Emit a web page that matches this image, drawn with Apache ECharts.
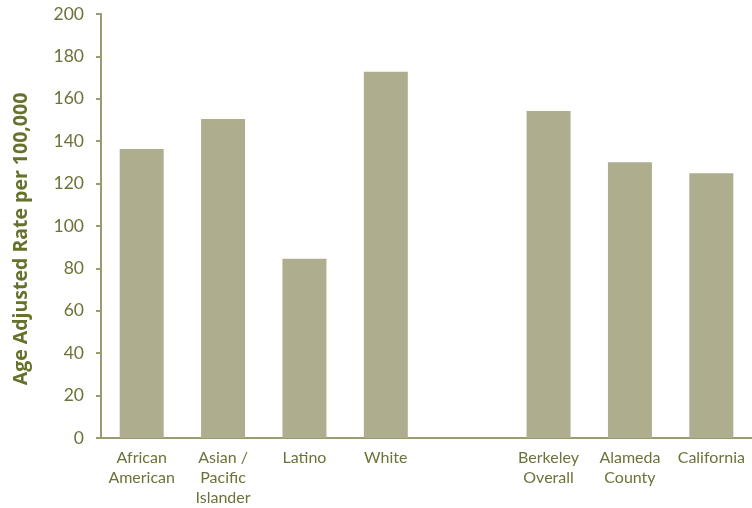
<!DOCTYPE html>
<html>
<head>
<meta charset="utf-8">
<script src="https://cdn.jsdelivr.net/npm/echarts@6/dist/echarts.min.js"></script>
<style>html,body{margin:0;padding:0;background:#fff}#c{width:752px;height:508px}</style>
</head>
<body>
<div id="c"></div>
<script>
const categories = ["African\nAmerican", "Asian /\nPacific\nIslander", "Latino", "White", "", "Berkeley\nOverall", "Alameda\nCounty", "California"];
const values = [136.3, 150.5, 84.5, 172.8, null, 154.3, 130.1, 124.9];
const yTitle = "Age Adjusted Rate per 100,000";

const chart = echarts.init(document.getElementById('c'), null, {renderer: 'canvas'});
chart.setOption({
  animation: false,
  grid: {left: 101, right: 0, top: 14, bottom: 65, containLabel: false},
  xAxis: {
    type: 'category',
    data: categories,
    axisLine: {lineStyle: {color: '#9a9c70', width: 2}},
    axisTick: {show: false},
    axisLabel: {color: '#6d7238', fontFamily: 'Lato', fontSize: 16, lineHeight: 20, margin: 10, interval: 0}
  },
  yAxis: {
    type: 'value',
    min: 0, max: 200, interval: 20,
    name: yTitle,
    nameLocation: 'middle',
    nameGap: 70,
    nameTextStyle: {color: '#66712c', fontFamily: 'Open Sans', fontWeight: 'bold', fontSize: 19.5, padding: [0, 0, 0, -26]},
    axisLine: {show: true, lineStyle: {color: '#9a9c70', width: 2}},
    axisTick: {show: true, length: 5, lineStyle: {color: '#9a9c70', width: 2}},
    splitLine: {show: false},
    axisLabel: {color: '#6d7238', fontFamily: 'Lato', fontSize: 17.5, margin: 17, padding: [6, 0, 0, 0]}
  },
  series: [{
    type: 'bar',
    data: values,
    barWidth: 44,
    itemStyle: {color: '#aeae8e'}
  }]
});
</script>
</body>
</html>
